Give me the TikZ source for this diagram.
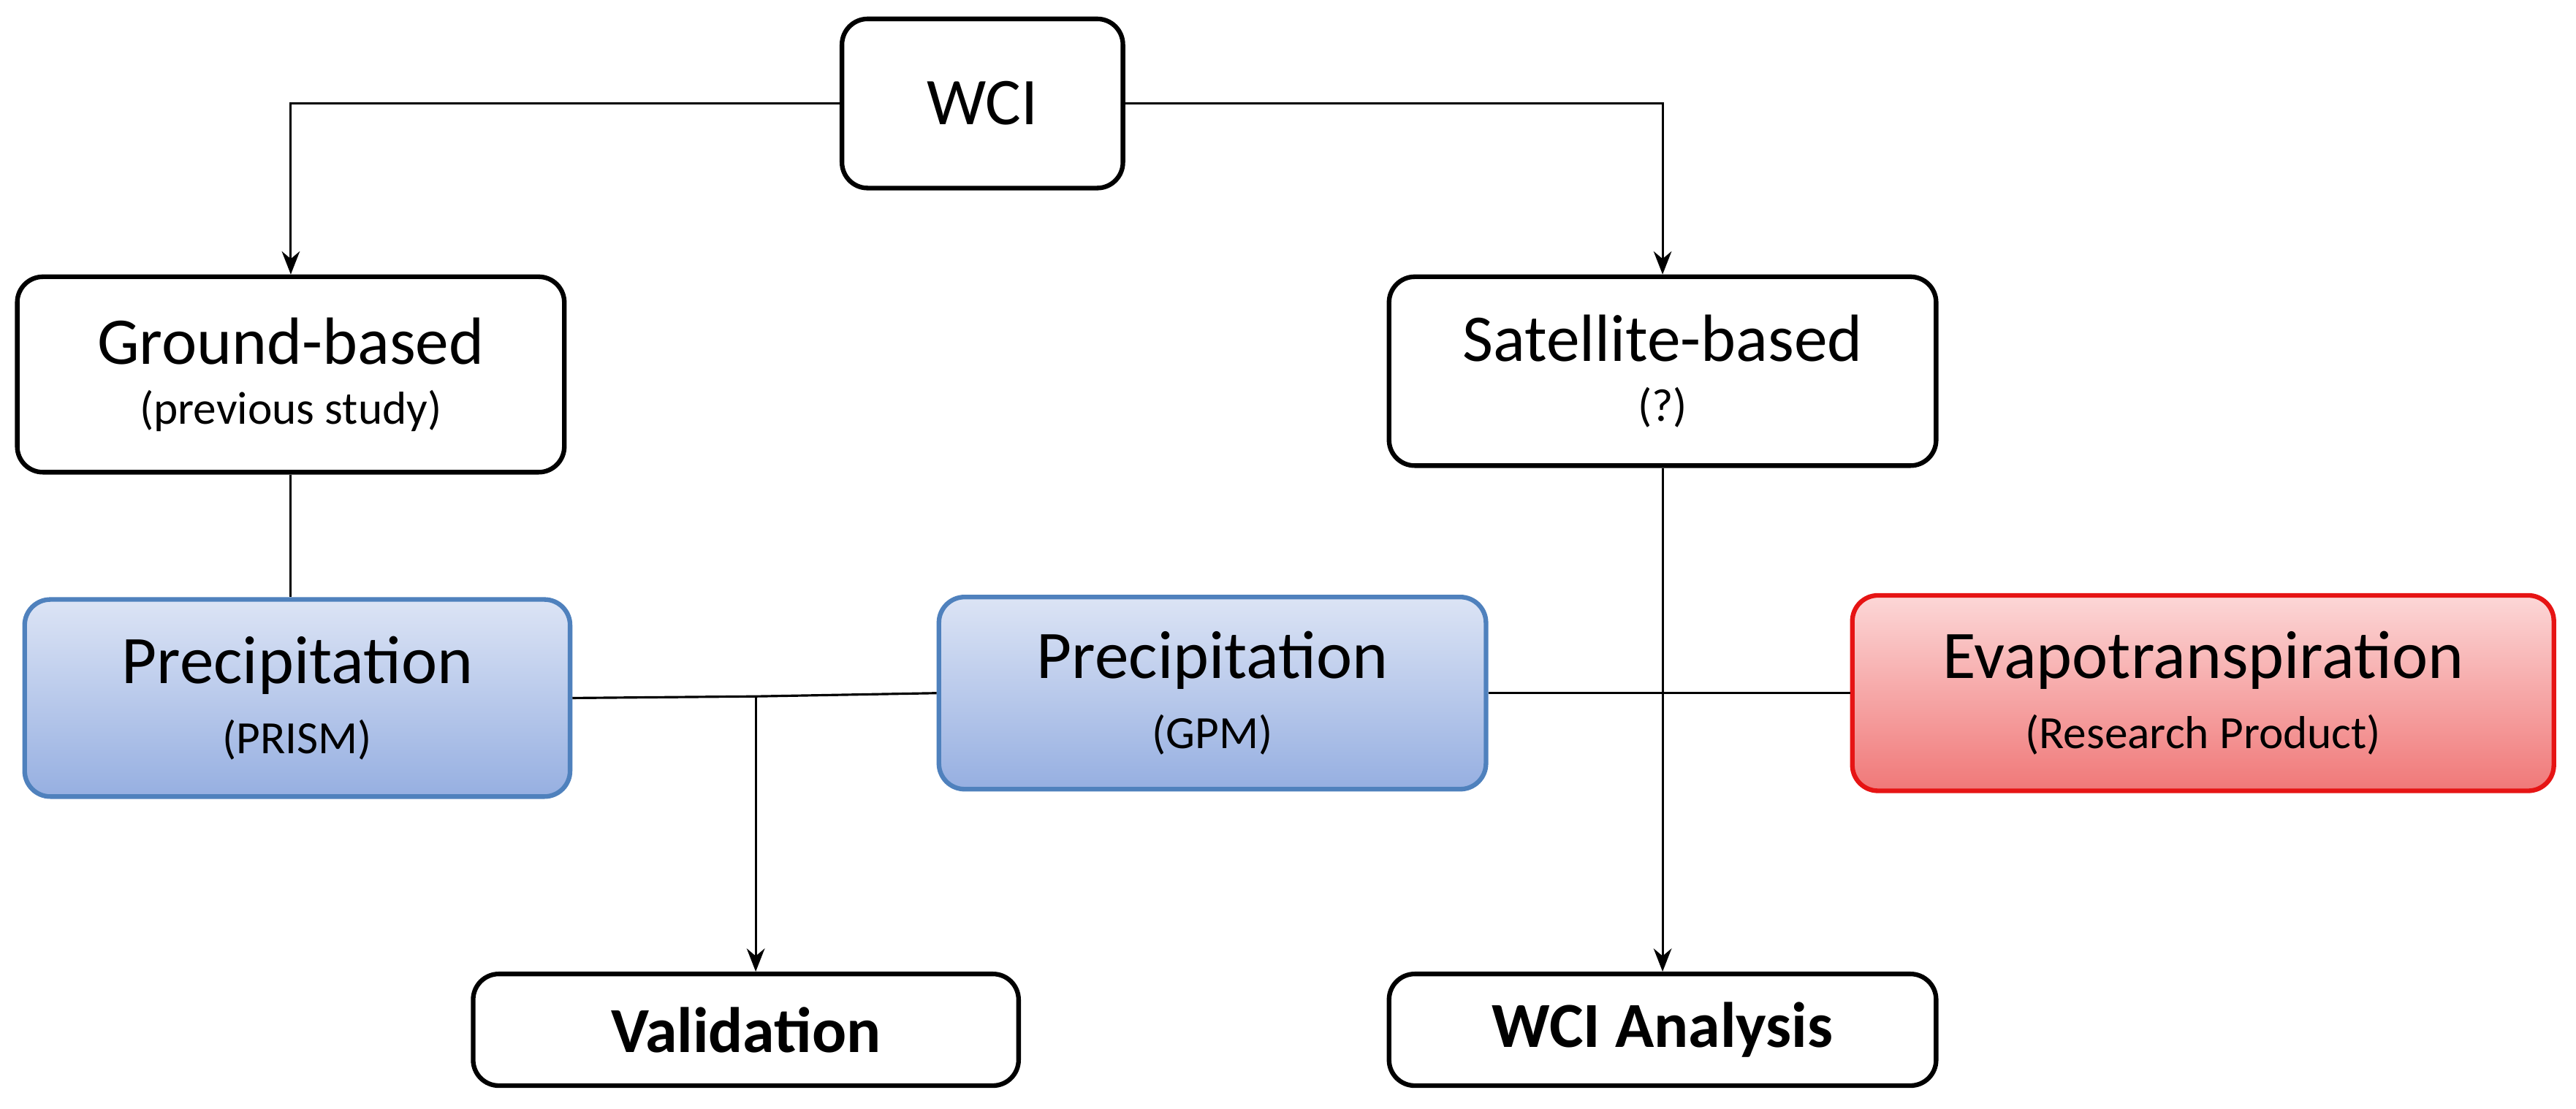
\documentclass[tikz,border=0pt]{standalone}
\usepackage{fontspec}
\setmainfont{Carlito}
\usetikzlibrary{arrows.meta}
\begin{document}
\begin{tikzpicture}[x=0.02248cm,y=-0.02248cm,
 box/.style={draw,line width=1.8pt,rounded corners=10pt,align=center,inner sep=0pt},
 blu/.style={box,draw={rgb,255:red,79;green,129;blue,189},top color={rgb,255:red,220;green,228;blue,245},bottom color={rgb,255:red,150;green,175;blue,225}},
 red/.style={box,draw={rgb,255:red,230;green,20;blue,20},top color={rgb,255:red,252;green,215;blue,215},bottom color={rgb,255:red,240;green,120;blue,120}},
 big/.style={font=\fontsize{26}{30}\selectfont},
 ar/.style={-{Stealth[length=9pt,width=7pt]},line width=0.9pt},
 ln/.style={line width=0.9pt}]
\useasboundingbox (0,0) rectangle (1568,675);
\node[box,minimum width=171*0.02248cm,minimum height=103*0.02248cm,big] (wci) at (598,63) {WCI};
\node[box,minimum width=333*0.02248cm,minimum height=119*0.02248cm] (gb) at (177,228) {{\fontsize{26}{30}\selectfont Ground-based}\\[9pt]{\fontsize{18}{22}\selectfont (previous study)}};
\node[box,minimum width=333*0.02248cm,minimum height=115*0.02248cm] (sb) at (1012,226) {{\fontsize{26}{30}\selectfont Satellite-based}\\[9pt]{\fontsize{18}{22}\selectfont (?)}};
\node[blu,minimum width=332*0.02248cm,minimum height=120*0.02248cm] (pp) at (181,425) {{\fontsize{26.5}{30}\selectfont Precipitation}\\[9pt]{\fontsize{18}{22}\selectfont (PRISM)}};
\node[blu,minimum width=333*0.02248cm,minimum height=117*0.02248cm] (pg) at (738,422) {{\fontsize{26.5}{30}\selectfont Precipitation}\\[9pt]{\fontsize{18}{22}\selectfont (GPM)}};
\node[red,minimum width=427*0.02248cm,minimum height=119*0.02248cm] (ev) at (1341,422) {{\fontsize{26.5}{30}\selectfont Evapotranspiration}\\[9pt]{\fontsize{18}{22}\selectfont (Research Product)}};
\node[box,minimum width=332*0.02248cm,minimum height=68*0.02248cm,font=\fontsize{25}{29}\selectfont\bfseries] (val) at (454,627) {Validation};
\node[box,minimum width=333*0.02248cm,minimum height=68*0.02248cm,font=\fontsize{25}{29}\selectfont\bfseries] (wa) at (1012,627) {WCI Analysis};
\draw[ar] (wci.west) -| (gb.north);
\draw[ar] (wci.east) -| (sb.north);
\draw[ln] (gb.south) -- (gb.south|-pp.north);
\draw[ar] (sb.south) -- (wa.north);
\coordinate (j) at (460,424);
\draw[ln] (pp.east) -- (j) -- (pg.west);
\draw[ar] (j) -- (j|-val.north);
\draw[ln] (pg.east) -- (ev.west);
\end{tikzpicture}
\end{document}
